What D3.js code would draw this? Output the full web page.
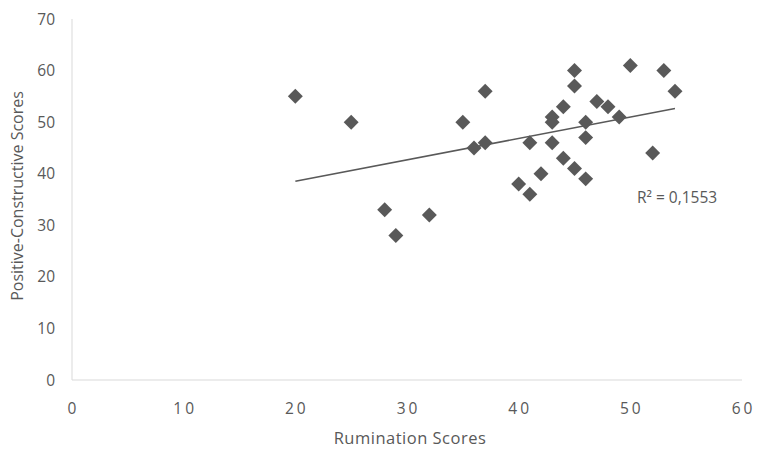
<!DOCTYPE html>
<html>
<head>
<meta charset="utf-8">
<script src="https://cdn.jsdelivr.net/npm/d3@7"></script>
<style>
  body { margin: 0; background: #fff; }
  svg text { font-family: "Open Sans", sans-serif; fill: #595959; }
</style>
</head>
<body>
<svg id="canvas" width="758" height="449"></svg>
<script>
const rumination = [20, 25, 28, 29, 32, 35, 36, 37, 37, 40, 41, 41, 42, 43, 43, 43,
  44, 44, 45, 45, 45, 46, 46, 46, 47, 48, 49, 50, 52, 53, 54];
const positive = [55, 50, 33, 28, 32, 50, 45, 56, 46, 38, 46, 36, 40, 51, 50, 46,
  53, 43, 60, 57, 41, 50, 47, 39, 54, 53, 51, 61, 44, 60, 56];
const xTicks = [0, 10, 20, 30, 40, 50, 60];
const yTicks = [0, 10, 20, 30, 40, 50, 60, 70];
const r2Label = "R² = 0,1553";

const svg = d3.select("#canvas");
const grigio = "#595959";

const x = d3.scaleLinear().domain([0, 60]).range([72, 742]);
const y = d3.scaleLinear().domain([0, 70]).range([380, 19]);

// assi
svg.append("line")
  .attr("x1", x(0)).attr("x2", x(60))
  .attr("y1", y(0)).attr("y2", y(0))
  .attr("stroke", "#d9d9d9").attr("stroke-width", 1);
svg.append("line")
  .attr("x1", x(0)).attr("x2", x(0))
  .attr("y1", y(0)).attr("y2", y(70))
  .attr("stroke", "#d9d9d9").attr("stroke-width", 1);

svg.selectAll("text.xt")
  .data(xTicks)
  .enter().append("text")
  .attr("class", "xt")
  .attr("x", d => x(d) + 1.5)
  .attr("y", 414)
  .attr("text-anchor", "middle")
  .attr("font-size", 15.5)
  .attr("letter-spacing", 3)
  .text(d => d);

svg.selectAll("text.yt")
  .data(yTicks)
  .enter().append("text")
  .attr("class", "yt")
  .attr("x", 55)
  .attr("y", d => y(d) + 5.5)
  .attr("text-anchor", "end")
  .attr("font-size", 15.5)
  .text(d => d);

svg.append("text")
  .attr("x", 410).attr("y", 444)
  .attr("text-anchor", "middle")
  .attr("font-size", 16.5)
  .attr("letter-spacing", 0.5)
  .text("Rumination Scores");

svg.append("text")
  .attr("transform", "translate(23,196) rotate(-90)")
  .attr("text-anchor", "middle")
  .attr("font-size", 16)
  .text("Positive-Constructive Scores");

// linea di tendenza (minimi quadrati)
const mx = d3.mean(rumination), my = d3.mean(positive);
let sxy = 0, sxx = 0;
rumination.forEach((v, i) => {
  sxy += (v - mx) * (positive[i] - my);
  sxx += (v - mx) * (v - mx);
});
const pend = sxy / sxx, interc = my - pend * mx;
const xmin = d3.min(rumination), xmax = d3.max(rumination);

svg.append("line")
  .attr("x1", x(xmin)).attr("y1", y(interc + pend * xmin))
  .attr("x2", x(xmax)).attr("y2", y(interc + pend * xmax))
  .attr("stroke", grigio).attr("stroke-width", 1.5);

// punti
svg.selectAll("path.pt")
  .data(rumination)
  .enter().append("path")
  .attr("class", "pt")
  .attr("d", d3.symbol().type(d3.symbolSquare).size(112))
  .attr("fill", grigio)
  .attr("transform", (d, i) => `translate(${x(d)},${y(positive[i])}) rotate(45)`);

svg.append("text")
  .attr("x", 637).attr("y", 203)
  .attr("font-size", 15.5)
  .text(r2Label);
</script>
</body>
</html>
